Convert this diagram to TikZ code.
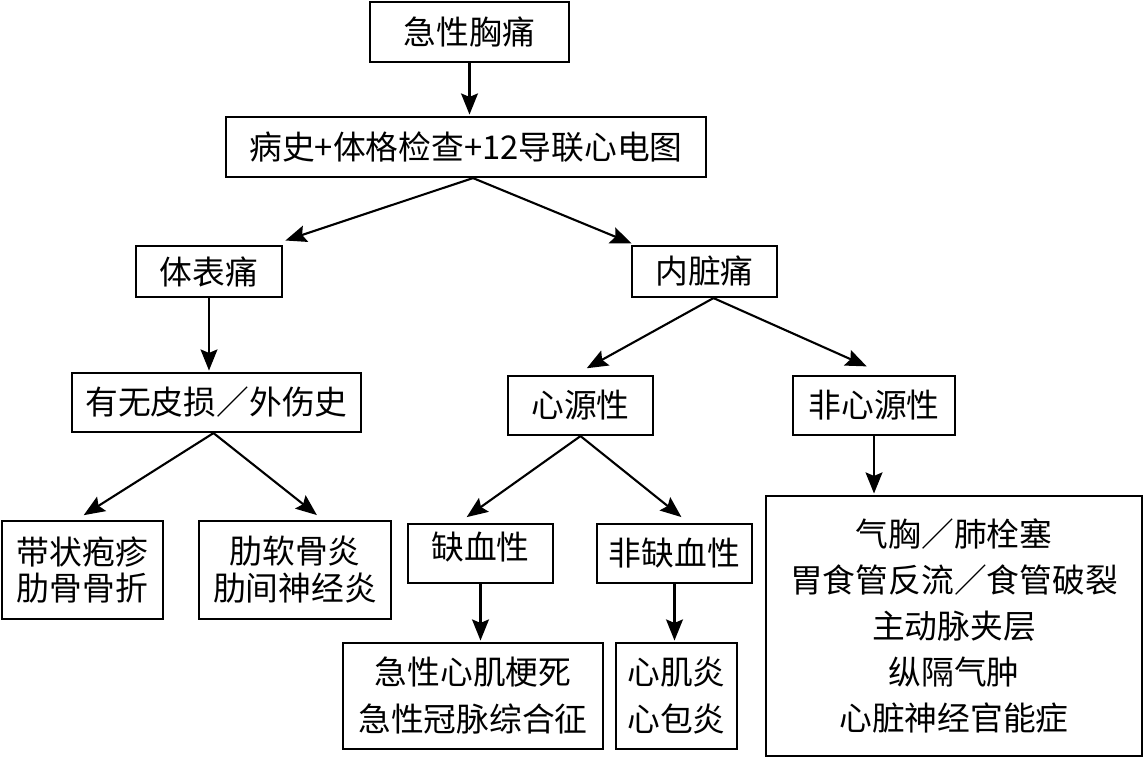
\documentclass[tikz,border=0pt]{standalone}
\usepackage{fontspec}
\setmainfont{Noto Sans CJK SC}
\usetikzlibrary{arrows.meta,calc}
\begin{document}
\begin{tikzpicture}[x=0.025cm,y=-0.025cm,
  box/.style={draw, line width=1.5pt, inner sep=0pt, align=center,
    font=\fontsize{23.3pt}{28pt}\selectfont},
  twoA/.style={box, font=\fontsize{23.3pt}{26.3pt}\selectfont},
  twoB/.style={box, font=\fontsize{23.3pt}{33.4pt}\selectfont},
  many/.style={box, font=\fontsize{23.3pt}{32.7pt}\selectfont},
  arr/.style={line width=1.5pt, shorten >=1pt, -{Stealth[length=15pt,width=12pt,inset=2.5pt]}}]
\useasboundingbox (0,0) rectangle (1144,758);

\node[box, minimum width=4.975cm, minimum height=1.5cm] (A) at (469.5,32) {急性胸痛};
\node[box, minimum width=12cm, minimum height=1.5cm] (B) at (466,147) {病史+体格检查+12导联心电图};
\node[box, minimum width=3.65cm, minimum height=1.275cm] (C) at (209,271.5) {体表痛};
\node[box, minimum width=3.625cm, minimum height=1.275cm] (D) at (704.5,271.5) {内脏痛};
\node[box, minimum width=7.225cm, minimum height=1.475cm] (E) at (216.5,402.5) {有无皮损／外伤史};
\node[box, minimum width=3.625cm, minimum height=1.475cm] (F) at (580.5,405.5) {心源性};
\node[box, minimum width=4.05cm, minimum height=1.475cm] (G) at (874,405.5) {非心源性};
\node[twoA, minimum width=4.025cm, minimum height=2.45cm] (H) at (82.5,570) {带状疱疹\\肋骨骨折};
\node[twoA, minimum width=4.8cm, minimum height=2.45cm] (I) at (295,570) {肋软骨炎\\肋间神经炎};
\node[box, minimum width=3.625cm, minimum height=1.475cm] (J) at (480.5,553.5) {\raisebox{0.4cm}{缺血性}};
\node[box, minimum width=3.875cm, minimum height=1.475cm] (K) at (674.5,553.5) {非缺血性};
\node[twoB, minimum width=6.5cm, minimum height=2.65cm] (L) at (473,696) {急性心肌梗死\\急性冠脉综合征};
\node[twoB, minimum width=3.025cm, minimum height=2.65cm] (M) at (676.5,696) {心肌炎\\心包炎};
\node[many, minimum width=9.4cm, minimum height=6.5cm] (N) at (954,626) {气胸／肺栓塞\\胃食管反流／食管破裂\\主动脉夹层\\纵隔气肿\\心脏神经官能症};

\draw[arr] (A.south) -- (A.south |- B.north);
\draw[arr] ($(B.south)+(7,0)$) -- ($(C.north east)+(1,-4)$);
\draw[arr] ($(B.south)+(7,0)$) -- ($(D.north west)+(2,-1)$);
\draw[arr] (C.south) -- (C.south |- E.north);
\draw[arr] ($(D.south)+(9,0)$) -- ($(F.north)+(5,-6)$);
\draw[arr] ($(D.south)+(9,0)$) -- ($(G.north)+(-6,-8)$);
\draw[arr] ($(E.south)+(-3,0)$) -- ($(H.north)+(0,-4)$);
\draw[arr] ($(E.south)+(-3,0)$) -- ($(I.north)+(23,-4)$);
\draw[arr] (F.south) -- ($(J.north)+(-15,-5)$);
\draw[arr] (F.south) -- ($(K.north)+(8,-5)$);
\draw[arr] (J.south) -- (J.south |- L.north);
\draw[arr] (K.south) -- (K.south |- M.north);
\draw[arr] (G.south) -- (G.south |- N.north);
\end{tikzpicture}
\end{document}
